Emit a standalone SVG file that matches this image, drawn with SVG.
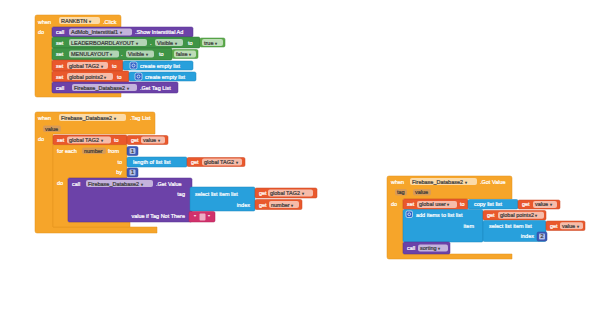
<svg xmlns="http://www.w3.org/2000/svg" width="610" height="326" viewBox="0 0 610 326">
<style>
text{font-family:"Liberation Sans",Arial,sans-serif;font-size:5.5px;fill:#fff;stroke:#fff;stroke-width:0.22}
text.f{fill:#3a3a3a;stroke:#3a3a3a}
tspan.ar{font-size:4px}
.ev{fill:#F6A52A;stroke:#E0921C;stroke-width:0.5}
.pu{fill:#6C42A8;stroke:#573390;stroke-width:0.5}
.gr{fill:#3F9446;stroke:#2F7A36;stroke-width:0.5}
.lg{fill:#5EAA4C;stroke:#3F8C36;stroke-width:0.5}
.rd{fill:#E9582C;stroke:#C94420;stroke-width:0.5}
.bl{fill:#28A0DC;stroke:#1A86BE;stroke-width:0.5}
.nv{fill:#3D5AB8;stroke:#2C4596;stroke-width:0.5}
.pk{fill:#D1326C;stroke:#B02257;stroke-width:0.5}
.fd{fill:#fff;fill-opacity:0.6}
.pm{fill:#D99B55}
.ic{fill:#2E61C8;stroke:#fff;stroke-width:0.6}
</style>
<rect width="610" height="326" fill="#fff"/>
<g id="connectors"/>

<g id="ev-rankbtn-click">
<path class="ev" d="M37,15 H119 Q121,15 121,17 V27 H52 V91 H121 V97 H37 Q35,97 35,95 V17 Q35,15 37,15 Z"/>
<text x="38" y="23.5">when</text>
<rect class="fd" x="59" y="17" width="41" height="7" rx="2"/><text class="f" x="61" y="22.5">RANKBTN <tspan class="ar">▾</tspan></text>
<text x="103" y="23.5">.Click</text>
<text x="38" y="34">do</text>
<g id="call-admob-show">
<rect class="pu" x="52" y="27" width="141" height="10" rx="1.5"/>
<text x="56" y="34">call</text>
<rect class="fd" x="69" y="28.5" width="63" height="7" rx="2"/><text class="f" x="71" y="34">AdMob_Interstitial1 <tspan class="ar">▾</tspan></text>
<text x="135" y="34">.Show Interstitial Ad</text>
</g>
<g id="set-leaderboard-visible">
<rect class="gr" x="52" y="37" width="148" height="11" rx="1.5"/>
<text x="56" y="44.5">set</text>
<rect class="fd" x="69" y="39" width="78" height="7" rx="2"/><text class="f" x="71" y="44.5">LEADERBOARDLAYOUT <tspan class="ar">▾</tspan></text>
<text x="150" y="44.5">.</text>
<rect class="fd" x="155" y="39" width="28" height="7" rx="2"/><text class="f" x="157" y="44.5">Visible <tspan class="ar">▾</tspan></text>
<text x="188" y="44.5">to</text>
<g id="logic-true"><rect class="lg" x="200" y="38" width="25" height="9" rx="1.5"/>
<rect class="fd" x="202" y="39" width="21" height="7" rx="2"/><text class="f" x="204" y="44.5">true <tspan class="ar">▾</tspan></text></g>
</g>
<g id="set-menu-visible">
<rect class="gr" x="52" y="48" width="120" height="12" rx="1.5"/>
<text x="56" y="56">set</text>
<rect class="fd" x="69" y="50.5" width="50" height="7" rx="2"/><text class="f" x="71" y="56">MENULAYOUT <tspan class="ar">▾</tspan></text>
<text x="121" y="56">.</text>
<rect class="fd" x="126" y="50.5" width="28" height="7" rx="2"/><text class="f" x="128" y="56">Visible <tspan class="ar">▾</tspan></text>
<text x="159" y="56">to</text>
<g id="logic-false"><rect class="lg" x="172" y="49.5" width="26" height="9" rx="1.5"/>
<rect class="fd" x="174" y="50.5" width="22" height="7" rx="2"/><text class="f" x="176" y="56">false <tspan class="ar">▾</tspan></text></g>
</g>
<g id="set-tag2">
<rect class="rd" x="52" y="60" width="71" height="11" rx="1.5"/>
<text x="56" y="67.5">set</text>
<rect class="fd" x="67" y="62" width="41" height="7" rx="2"/><text class="f" x="69" y="67.5">global TAG2 <tspan class="ar">▾</tspan></text>
<text x="112" y="67.5">to</text>
<g id="create-empty-1"><rect class="bl" x="123" y="61" width="70" height="9" rx="1.5"/>
<rect class="ic" x="130" y="62" width="7" height="7" rx="1.5"/><circle cx="133.5" cy="65.5" r="1.5" fill="none" stroke="#fff" stroke-width="0.7"/>
<text x="140" y="67.5">create empty list</text></g>
</g>
<g id="set-points2">
<rect class="rd" x="52" y="71" width="77" height="11" rx="1.5"/>
<text x="56" y="78.5">set</text>
<rect class="fd" x="67" y="73" width="46" height="7" rx="2"/><text class="f" x="69" y="78.5">global points2 <tspan class="ar">▾</tspan></text>
<text x="117" y="78.5">to</text>
<g id="create-empty-2"><rect class="bl" x="129" y="72" width="67" height="9" rx="1.5"/>
<rect class="ic" x="135" y="73" width="7" height="7" rx="1.5"/><circle cx="138.5" cy="76.5" r="1.5" fill="none" stroke="#fff" stroke-width="0.7"/>
<text x="145" y="78.5">create empty list</text></g>
</g>
<g id="call-get-tag-list">
<rect class="pu" x="52" y="82" width="126" height="11" rx="1.5"/>
<text x="56" y="89.5">call</text>
<rect class="fd" x="72" y="84" width="65" height="7" rx="2"/><text class="f" x="74" y="89.5">Firebase_Database2 <tspan class="ar">▾</tspan></text>
<text x="140" y="89.5">.Get Tag List</text>
</g>
</g>

<g id="ev-tag-list">
<path class="ev" d="M37,112 H153 Q155,112 155,114 V134 H53 V227 H157 V233 H37 Q35,233 35,231 V114 Q35,112 37,112 Z"/>
<text x="38" y="119.5">when</text>
<rect class="fd" x="59" y="114" width="67" height="7" rx="2"/><text class="f" x="61" y="119.5">Firebase_Database2 <tspan class="ar">▾</tspan></text>
<text x="130" y="119.5">.Tag List</text>
<rect class="pm" x="43" y="125.5" width="18" height="6.5" rx="2"/><text class="f" x="45" y="130.5">value</text>
<text x="38" y="141">do</text>
<g id="set-tag2-value">
<rect class="rd" x="53" y="135" width="74" height="10" rx="1.5"/>
<text x="57" y="142">set</text>
<rect class="fd" x="67" y="136.5" width="44" height="7" rx="2"/><text class="f" x="69" y="142">global TAG2 <tspan class="ar">▾</tspan></text>
<text x="114" y="142">to</text>
<g id="get-value-1"><rect class="rd" x="127" y="135.5" width="41" height="9" rx="1.5"/>
<text x="131" y="142">get</text>
<rect class="fd" x="141" y="136.5" width="24" height="7" rx="2"/><text class="f" x="143" y="142">value <tspan class="ar">▾</tspan></text></g>
</g>
<g id="for-each-number">
<path class="ev" d="M53,145 H127 V178 H68 V222 H130 V227 H53 Z"/>
<text x="57" y="152.5">for each</text>
<rect class="pm" x="82" y="147.5" width="24" height="6.5" rx="2"/><text class="f" x="84" y="152.5">number</text>
<text x="108" y="152.5">from</text>
<g id="num-from"><rect class="nv" x="127" y="146.5" width="11" height="9" rx="1.5"/>
<rect class="fd" x="129.5" y="148" width="6" height="6" rx="1"/><text class="f" x="131" y="152.8">1</text></g>
<text x="122" y="163.5" text-anchor="end">to</text>
<g id="length-of-list"><rect class="bl" x="127" y="157" width="60" height="10" rx="1.5"/>
<text x="133" y="163.5">length of list  list</text>
<g id="get-tag2-1"><rect class="rd" x="187" y="157.5" width="58" height="9" rx="1.5"/>
<text x="191" y="163.5">get</text>
<rect class="fd" x="202" y="158.5" width="40" height="7" rx="2"/><text class="f" x="204" y="163.5">global TAG2 <tspan class="ar">▾</tspan></text></g></g>
<text x="122" y="174" text-anchor="end">by</text>
<g id="num-by"><rect class="nv" x="127" y="168" width="11" height="9" rx="1.5"/>
<rect class="fd" x="129.5" y="169.5" width="6" height="6" rx="1"/><text class="f" x="131" y="174.3">1</text></g>
<text x="57" y="185">do</text>
<g id="call-get-value">
<rect class="pu" x="68" y="178" width="124" height="44" rx="1.5"/>
<text x="72" y="185.5">call</text>
<rect class="fd" x="86" y="180" width="67" height="7" rx="2"/><text class="f" x="88" y="185.5">Firebase_Database2 <tspan class="ar">▾</tspan></text>
<text x="156" y="185.5">.Get Value</text>
<text x="185" y="196" text-anchor="end">tag</text>
<g id="select-list-item-1"><rect class="bl" x="190" y="187" width="65" height="24" rx="1.5"/>
<text x="195" y="195.5">select list item  list</text>
<text x="250" y="206.5" text-anchor="end">index</text>
<g id="get-tag2-2"><rect class="rd" x="255" y="188" width="62" height="10" rx="1.5"/>
<text x="259" y="195">get</text>
<rect class="fd" x="268" y="189.5" width="45" height="7" rx="2"/><text class="f" x="270" y="195">global TAG2 <tspan class="ar">▾</tspan></text></g>
<g id="get-number"><rect class="rd" x="255" y="199.5" width="47" height="10" rx="1.5"/>
<text x="259" y="206.5">get</text>
<rect class="fd" x="269" y="201" width="30" height="7" rx="2"/><text class="f" x="271" y="206.5">number <tspan class="ar">▾</tspan></text></g></g>
<text x="185" y="217.5" text-anchor="end">value if Tag Not There</text>
<g id="text-empty"><rect class="pk" x="189" y="211.5" width="26" height="10.5" rx="1.5"/>
<text x="194" y="218.5">"</text>
<rect class="fd" x="199.5" y="213.5" width="6" height="7" rx="1"/>
<text x="208" y="218.5">"</text></g>
</g>
</g>
</g>

<g id="ev-got-value">
<path class="ev" d="M389,176 H510 Q512,176 512,178 V199 H403 V254 H512 V259 H389 Q387,259 387,257 V178 Q387,176 389,176 Z"/>
<text x="391" y="183.5">when</text>
<rect class="fd" x="410" y="178" width="67" height="7" rx="2"/><text class="f" x="412" y="183.5">Firebase_Database2 <tspan class="ar">▾</tspan></text>
<text x="480" y="183.5">.Got Value</text>
<rect class="pm" x="395" y="189" width="12" height="6.5" rx="2"/><text class="f" x="397" y="194">tag</text>
<rect class="pm" x="413" y="189" width="18" height="6.5" rx="2"/><text class="f" x="415" y="194">value</text>
<text x="391" y="205.5">do</text>
<g id="set-user">
<rect class="rd" x="403" y="199" width="65" height="10.5" rx="1.5"/>
<text x="407" y="206">set</text>
<rect class="fd" x="417" y="201" width="40" height="7" rx="2"/><text class="f" x="419" y="206">global user <tspan class="ar">▾</tspan></text>
<text x="460" y="206">to</text>
<g id="copy-list"><rect class="bl" x="468" y="199.5" width="50" height="9.5" rx="1.5"/>
<text x="474" y="206">copy list  list</text>
<g id="get-value-2"><rect class="rd" x="518" y="200" width="42" height="9" rx="1.5"/>
<text x="522" y="206">get</text>
<rect class="fd" x="533" y="201" width="24" height="7" rx="2"/><text class="f" x="535" y="206">value <tspan class="ar">▾</tspan></text></g></g>
</g>
<g id="add-items-to-list">
<rect class="bl" x="403" y="209.5" width="80" height="32.5" rx="1.5"/>
<rect class="ic" x="406" y="211" width="6.5" height="6.5" rx="1.5"/><circle cx="409.25" cy="214.25" r="1.4" fill="none" stroke="#fff" stroke-width="0.7"/>
<text x="416" y="216.5">add items to list  list</text>
<text x="474" y="227.5" text-anchor="end">item</text>
<g id="get-points2"><rect class="rd" x="483" y="210.5" width="63" height="9.5" rx="1.5"/>
<text x="487" y="217">get</text>
<rect class="fd" x="498" y="211.8" width="46" height="7" rx="2"/><text class="f" x="500" y="217">global points2 <tspan class="ar">▾</tspan></text></g>
<g id="select-list-item-2"><rect class="bl" x="483" y="220.5" width="63" height="21" rx="1.5"/>
<text x="489" y="227.5">select list item  list</text>
<text x="534" y="238" text-anchor="end">index</text>
<g id="get-value-3"><rect class="rd" x="546" y="221" width="39" height="9.5" rx="1.5"/>
<text x="550" y="228">get</text>
<rect class="fd" x="560" y="222.2" width="23" height="7" rx="2"/><text class="f" x="562" y="227.7">value <tspan class="ar">▾</tspan></text></g>
<g id="num-index"><rect class="nv" x="537" y="232" width="10" height="9" rx="1.5"/>
<rect class="fd" x="539" y="233.5" width="6" height="6" rx="1"/><text class="f" x="540.5" y="238.3">2</text></g></g>
</g>
<g id="call-sorting">
<rect class="pu" x="403" y="242" width="47" height="12" rx="1.5"/>
<text x="407" y="250">call</text>
<rect class="fd" x="418" y="244.5" width="30" height="7" rx="2"/><text class="f" x="420" y="250">sorting <tspan class="ar">▾</tspan></text>
</g>
</g>
</svg>
